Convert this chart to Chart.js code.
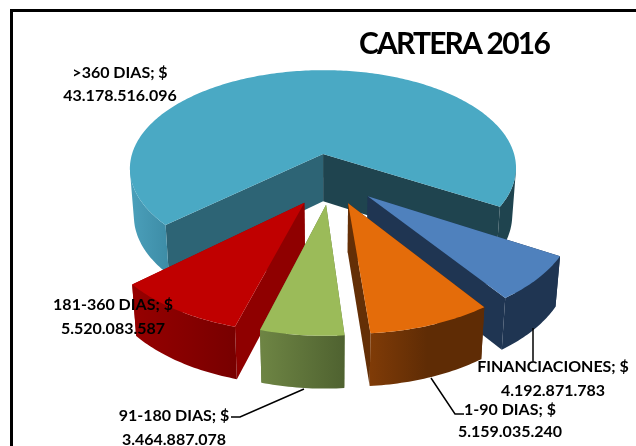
<!DOCTYPE html>
<html>
<head>
<meta charset="utf-8">
<style>
  body { margin: 0; background: #fff; }
  #wrap { position: relative; width: 636px; height: 446px; overflow: hidden; }
  #frame { position: absolute; left: 10px; top: 9px; width: 640px; height: 450px; border-left: 3px solid #000; border-top: 3px solid #000; }
  canvas { position: absolute; left: 0; top: 0; }
</style>
<script src="https://cdn.jsdelivr.net/npm/chart.js@4"></script>
</head>
<body>
<div id="wrap">
  <div id="frame"></div>
  <canvas id="carteraChart" width="636" height="446"></canvas>
</div>
<script>
const categories = [">360 DIAS", "FINANCIACIONES", "1-90 DIAS", "91-180 DIAS", "181-360 DIAS"];
const values = [43178516096, 4192871783, 5159035240, 3464887078, 5520083587];
const topColors = ["#4aa9c4", "#4f81bd", "#e46c0a", "#9bbb59", "#c00000"];

// caras de corte [inicio, fin] y pared exterior de cada porcion
const cutColors = [
    ["#2d6475", "#1f444f"],
    ["#1f3552", "#1f3552"],
    ["#5f2c05", "#642f06"],
    ["#5f7339", "#5f7339"],
    ["#8f0000", "#8f0000"]
];
const wallStops = [
    [[0, "#4ba0bb"], [0.1, "#3d8ca6"], [0.2, "#2f6c80"], [0.75, "#1f444f"], [1, "#1f444f"]],
    [[0, "#1f3552"], [1, "#1f3552"]],
    [[0, "#7f3b07"], [0.5, "#5f2c05"], [1, "#5f2c05"]],
    [[0, "#6e8544"], [1, "#4f6230"]],
    [[0, "#960000"], [1, "#780000"]]
];
// ajuste fino de cada porcion en pantalla
const sliceNudge = [[-3.3, 0], [0, 0], [0, 0], [0, 0], [0, 2]];

// centro x, y de cada linea de texto
const labelPos = [
    [120, 73, 96],
    [553, 367, 391],
    [510, 410, 432],
    [174, 416, 440],
    [113, 305, 329]
];
const leaderLines = [
    [[533, 328], [533, 361]],
    [[431, 378], [455, 414], [464, 414]],
    [[231, 417], [240, 417], [304, 389]]
];

// vista 3D del plano de la torta
const VIEW = { cx: 331, cy: 178.5, sx: 198, sy: 103, persp: 0.148, explode: 0.247, depth: 48 };

function project(u, v, lower, nudge) {
    const s = 1 / (1 - VIEW.persp * v);
    let x = VIEW.sx * u * s;
    let y = VIEW.sy * v * s;
    if (lower) {
        x *= 0.98;
        y += VIEW.depth * (1 + 0.08 * v);
    }
    return [VIEW.cx + x + nudge[0], VIEW.cy + y + nudge[1]];
}

function planePoint(arc, ang, r) {
    const mid = (arc.startAngle + arc.endAngle) / 2;
    return [
        VIEW.explode * Math.cos(mid) + r * Math.cos(ang),
        VIEW.explode * Math.sin(mid) + r * Math.sin(ang)
    ];
}

function fillPoly(ctx, pts, fill) {
    ctx.beginPath();
    pts.forEach((p, i) => i ? ctx.lineTo(p[0], p[1]) : ctx.moveTo(p[0], p[1]));
    ctx.closePath();
    ctx.fillStyle = fill;
    ctx.fill();
}

function drawSlice(ctx, arc, idx) {
    const nudge = sliceNudge[idx];
    const steps = Math.ceil((arc.endAngle - arc.startAngle) / (Math.PI / 180));
    const angles = [];
    const outer = [];
    for (let i = 0; i <= steps; i++) {
        const ang = arc.startAngle + (arc.endAngle - arc.startAngle) * i / steps;
        angles.push(ang);
        outer.push(planePoint(arc, ang, 1));
    }
    const apex = planePoint(arc, arc.startAngle, 0);

    // caras de corte, primero la mas lejana
    const cuts = [
        { p: outer[0], color: cutColors[idx][0] },
        { p: outer[steps], color: cutColors[idx][1] }
    ].sort((a, b) => a.p[1] - b.p[1]);
    cuts.forEach(c => {
        fillPoly(ctx, [
            project(apex[0], apex[1], false, nudge), project(c.p[0], c.p[1], false, nudge),
            project(c.p[0], c.p[1], true, nudge), project(apex[0], apex[1], true, nudge)
        ], c.color);
    });

    // pared exterior: solo los tramos que miran al frente, en un solo path
    const upper = outer.map(p => project(p[0], p[1], false, nudge));
    const lower = outer.map(p => project(p[0], p[1], true, nudge));
    const xs = upper.map(p => p[0]);
    const grad = ctx.createLinearGradient(Math.min(...xs), 0, Math.max(...xs), 0);
    wallStops[idx].forEach(s => grad.addColorStop(s[0], s[1]));
    ctx.beginPath();
    for (let i = 0; i < steps; i++) {
        if (Math.sin(angles[i]) < 0.1 && Math.sin(angles[i + 1]) < 0.1) continue;
        let quad = [upper[i], upper[i + 1], lower[i + 1], lower[i]];
        let area = 0;
        quad.forEach((p, k) => {
            const q = quad[(k + 1) % 4];
            area += p[0] * q[1] - q[0] * p[1];
        });
        if (area < 0) quad = quad.reverse();
        quad.forEach((p, k) => k ? ctx.lineTo(p[0], p[1]) : ctx.moveTo(p[0], p[1]));
        ctx.closePath();
    }
    ctx.fillStyle = grad;
    ctx.fill('nonzero');

    // cara superior
    fillPoly(ctx, [project(apex[0], apex[1], false, nudge)].concat(upper), arc.options.backgroundColor);
}

const pie3d = {
    id: 'pie3d',
    beforeDraw(chart) {
        chart.ctx.letterSpacing = '-1.8px';
    },
    beforeDatasetDraw(chart) {
        const ctx = chart.ctx;
        const arcs = chart.getDatasetMeta(0).data.map((arc, idx) => ({ arc, idx }));
        arcs.sort((a, b) =>
            Math.sin((a.arc.startAngle + a.arc.endAngle) / 2) - Math.sin((b.arc.startAngle + b.arc.endAngle) / 2));
        ctx.save();
        arcs.forEach(a => drawSlice(ctx, a.arc, a.idx));
        ctx.restore();
        return false;
    },
    afterDatasetsDraw(chart) {
        const ctx = chart.ctx;
        ctx.save();
        ctx.letterSpacing = '0px';
        ctx.strokeStyle = '#000';
        ctx.lineWidth = 1.5;
        leaderLines.forEach(line => {
            ctx.beginPath();
            line.forEach((p, i) => i ? ctx.lineTo(p[0], p[1]) : ctx.moveTo(p[0], p[1]));
            ctx.stroke();
        });
        ctx.fillStyle = '#000';
        ctx.font = 'bold 16px Lato';
        ctx.textAlign = 'center';
        ctx.textBaseline = 'middle';
        categories.forEach((name, i) => {
            const pos = labelPos[i];
            const money = String(values[i]).replace(/\B(?=(\d{3})+$)/g, '.');
            ctx.fillText(`${name}; $`, pos[0], pos[1]);
            ctx.fillText(money, pos[0], pos[2]);
        });
        ctx.restore();
    }
};

new Chart(document.getElementById('carteraChart'), {
    type: 'pie',
    data: {
        labels: categories,
        datasets: [{ data: values, backgroundColor: topColors, borderWidth: 0 }]
    },
    options: {
        responsive: false,
        animation: false,
        rotation: 228,
        layout: { padding: { top: 26, right: 87 } },
        plugins: {
            legend: { display: false },
            tooltip: { enabled: false },
            title: {
                display: true,
                text: 'CARTERA 2016',
                align: 'end',
                color: '#000',
                font: { family: 'Lato', size: 30, weight: 'bold' },
                padding: 0
            }
        }
    },
    plugins: [pie3d]
});
</script>
</body>
</html>
